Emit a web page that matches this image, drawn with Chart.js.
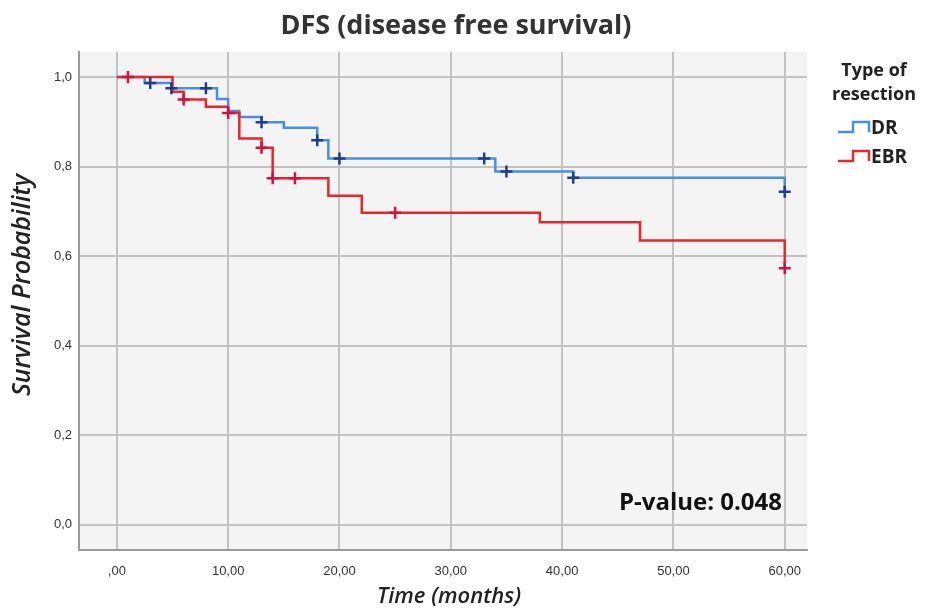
<!DOCTYPE html>
<html>
<head>
<meta charset="utf-8">
<script src="https://cdn.jsdelivr.net/npm/chart.js@4.4.1/dist/chart.umd.min.js"></script>
<style>
  html, body { margin: 0; padding: 0; background: #fff; }
  #wrap { width: 928px; height: 609px; }
</style>
</head>
<body>
<div id="wrap"><canvas id="km" width="928" height="609"></canvas></div>
<script>
// Kaplan-Meier steps (time in months, survival probability)
const drTime = [0, 2.5, 4.9, 9, 10, 11, 13, 15, 18, 19, 34, 41, 60];
const drSurv = [1.0, 0.987, 0.975, 0.951, 0.924, 0.911, 0.899, 0.887, 0.859, 0.818, 0.789, 0.775, 0.744];
const ebrTime = [0, 5, 6, 8, 10, 11, 13, 14, 19, 22, 38, 47, 60];
const ebrSurv = [1.0, 0.967, 0.950, 0.934, 0.920, 0.863, 0.842, 0.774, 0.735, 0.697, 0.676, 0.635, 0.573];

// censored observations
const drCensTime = [3, 4.9, 8, 13, 18, 20, 33, 35, 41, 60];
const drCensSurv = [0.987, 0.975, 0.975, 0.899, 0.859, 0.818, 0.818, 0.789, 0.775, 0.744];
const ebrCensTime = [1, 6, 10, 13, 14, 16, 25, 60];
const ebrCensSurv = [1.0, 0.950, 0.920, 0.842, 0.774, 0.774, 0.697, 0.573];

const xTicks = [0, 10, 20, 30, 40, 50, 60];
const yTicks = [0, 0.2, 0.4, 0.6, 0.8, 1.0];
const groups = ['DR', 'EBR'];

const blueLine = '#4590e2';
const redLine = '#e8262c';
const blueMark = '#203c8f';
const redMark = '#d3113c';

function pts(xs, ys) {
  return xs.map((x, i) => ({ x: x, y: ys[i] }));
}

// light grey plot background + custom texts (title, axis titles, legend, p-value)
const decor = {
  id: 'decor',
  beforeDraw(chart) {
    const { ctx, chartArea: a } = chart;
    ctx.save();
    ctx.fillStyle = '#f4f4f4';
    ctx.fillRect(a.left, a.top, a.right - a.left, a.bottom - a.top);
    ctx.restore();
  },
  afterDraw(chart) {
    const ctx = chart.ctx;
    ctx.save();
    ctx.textBaseline = 'middle';

    ctx.fillStyle = '#333';
    ctx.textAlign = 'center';
    ctx.font = 'bold 27px "Open Sans"';
    ctx.fillText('DFS (disease free survival)', 456, 26);

    ctx.fillStyle = '#222';
    ctx.font = 'italic 600 22px "Open Sans"';
    ctx.fillText('Time (months)', 449, 597);

    ctx.save();
    ctx.translate(23, 285);
    ctx.rotate(-Math.PI / 2);
    ctx.font = 'italic 600 25px "Open Sans"';
    ctx.fillText('Survival Probability', 0, 0);
    ctx.restore();

    // legend
    ctx.fillStyle = '#222';
    ctx.font = 'bold 18px "Open Sans"';
    ctx.fillText('Type of', 874, 71);
    ctx.fillText('resection', 874, 95);

    const colors = [blueLine, redLine];
    groups.forEach((g, i) => {
      const y = 132 + i * 29;
      ctx.strokeStyle = colors[i];
      ctx.lineWidth = 2.5;
      ctx.beginPath();
      ctx.moveTo(838, y);
      ctx.lineTo(853, y);
      ctx.lineTo(853, y - 10);
      ctx.lineTo(869, y - 10);
      ctx.lineTo(869, y);
      ctx.stroke();
      ctx.textAlign = 'left';
      ctx.fillStyle = '#222';
      ctx.font = 'bold 19px "Open Sans"';
      ctx.fillText(g, 871, y - 3);
    });

    ctx.fillStyle = '#111';
    ctx.textAlign = 'right';
    ctx.font = 'bold 24px "Open Sans"';
    ctx.fillText('P-value: 0.048', 782, 503);
    ctx.restore();
  }
};

new Chart(document.getElementById('km'), {
  type: 'scatter',
  data: {
    datasets: [
      {
        label: 'DR censored',
        data: pts(drCensTime, drCensSurv),
        pointStyle: 'cross',
        pointRadius: 6,
        pointBorderWidth: 2.5,
        borderColor: blueMark,
        backgroundColor: blueMark,
        showLine: false,
        order: 0
      },
      {
        label: 'EBR censored',
        data: pts(ebrCensTime, ebrCensSurv),
        pointStyle: 'cross',
        pointRadius: 6,
        pointBorderWidth: 2.5,
        borderColor: redMark,
        backgroundColor: redMark,
        showLine: false,
        order: 0
      },
      {
        label: 'EBR',
        data: pts(ebrTime, ebrSurv),
        showLine: true,
        stepped: true,
        borderColor: redLine,
        borderWidth: 2.5,
        pointRadius: 0,
        order: 1
      },
      {
        label: 'DR',
        data: pts(drTime, drSurv),
        showLine: true,
        stepped: true,
        borderColor: blueLine,
        borderWidth: 2.5,
        pointRadius: 0,
        order: 2
      }
    ]
  },
  options: {
    responsive: false,
    animation: false,
    layout: { padding: { top: 52, right: 121, left: 0, bottom: 0 } },
    plugins: {
      legend: { display: false },
      tooltip: { enabled: false }
    },
    scales: {
      x: {
        type: 'linear',
        min: -3.4,
        max: 62,
        afterFit(s) { s.height = 59; },
        afterBuildTicks(s) { s.ticks = xTicks.map(v => ({ value: v })); },
        grid: { color: '#c2c2c2', lineWidth: 2, drawTicks: false },
        border: { color: '#9a9a9a', width: 2 },
        ticks: {
          padding: 14,
          color: '#333',
          font: { family: '"Liberation Sans", Arial', size: 13 },
          callback: v => v === 0 ? ',00' : v.toFixed(2).replace('.', ',')
        }
      },
      y: {
        type: 'linear',
        min: -0.056,
        max: 1.056,
        afterFit(s) { s.width = 79; },
        afterBuildTicks(s) { s.ticks = yTicks.map(v => ({ value: v })); },
        grid: { color: '#c2c2c2', lineWidth: 2, drawTicks: false },
        border: { color: '#9a9a9a', width: 2 },
        ticks: {
          padding: 7,
          color: '#333',
          font: { family: '"Liberation Sans", Arial', size: 13 },
          callback: v => v.toFixed(1).replace('.', ',')
        }
      }
    }
  },
  plugins: [decor]
});
</script>
</body>
</html>
